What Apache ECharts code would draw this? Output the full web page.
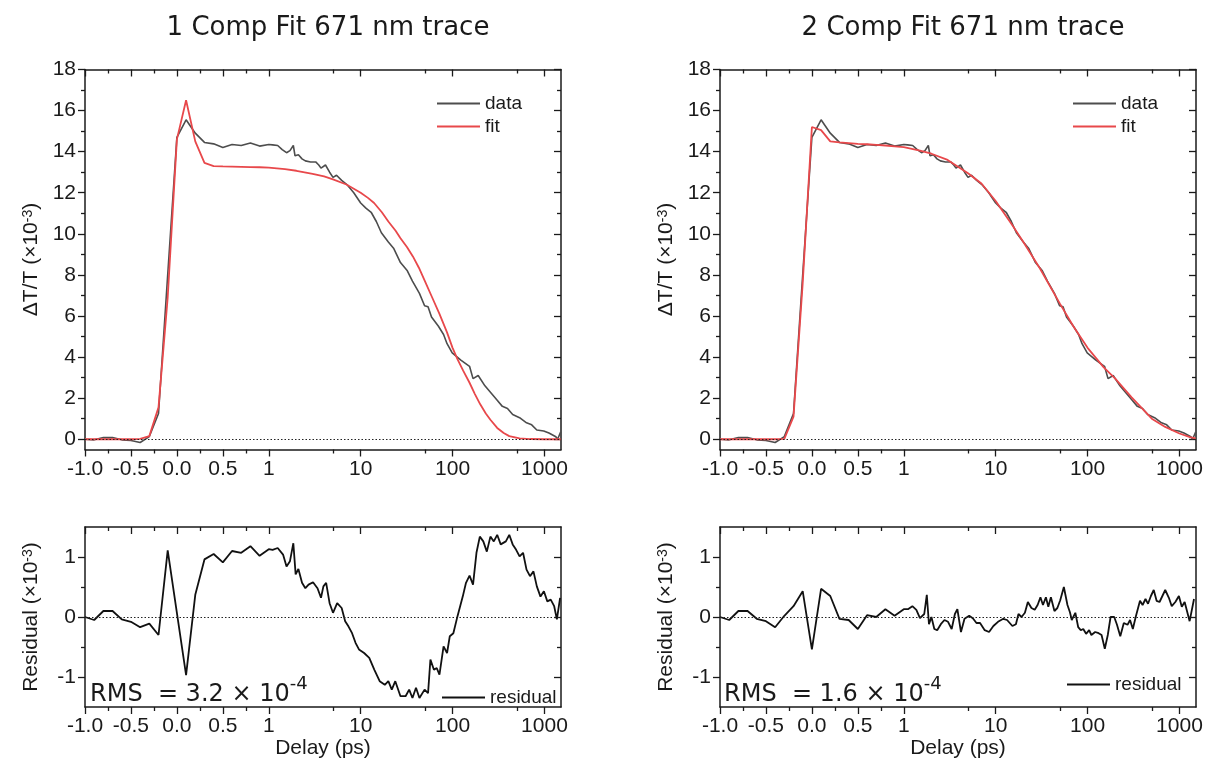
<!DOCTYPE html>
<html>
<head>
<meta charset="utf-8">
<script src="https://cdn.jsdelivr.net/npm/echarts@6/dist/echarts.min.js"></script>
<style>
  html, body { margin: 0; background: #fff; }
  #chart { width: 1207px; height: 768px; }
</style>
</head>
<body>
<div id="chart"></div>
<script>
// 671 nm trace: measured ΔT/T (x10^-3), 1- and 2-component fits, residuals.
// delay axis is linear from -1 to 1 ps, then log10 above 1 ps

const delay = [-1.0, -0.9, -0.8, -0.7, -0.6, -0.5, -0.4, -0.3, -0.2, -0.1, 0.0, 0.1, 0.2, 0.3, 0.4, 0.5, 0.6, 0.7, 0.8, 0.9, 1.0,
  1.1, 1.25, 1.4, 1.56, 1.7, 1.85, 1.93, 2.1, 2.3, 2.5, 2.85, 3.24, 3.5, 3.7, 4.14, 4.59, 5.0, 5.46, 6.21, 7.08,
  8.41, 10, 11.4, 13, 14.8, 16.8, 20, 22.8, 27.1, 32.2, 36.6, 43.6, 49.6, 54.1, 59, 70.2, 79.8, 87.1, 99.1, 123,
  153, 167, 190, 225, 268, 306, 348, 396, 451, 536, 638, 726, 826, 982, 1119, 1330, 1390, 1500]
const dtData = [0.0, -0.03, 0.08, 0.08, -0.03, -0.06, -0.16, 0.13, 1.25, 8.0, 14.7, 15.55, 14.9, 14.45, 14.38, 14.2, 14.35, 14.3, 14.42, 14.27, 14.35,
  14.33, 14.3, 14.1, 13.95, 14.05, 14.3, 13.8, 13.85, 13.65, 13.55, 13.5, 13.5, 13.35, 13.2, 13.35, 13.0, 12.75, 12.85, 12.6, 12.4,
  12.0, 11.5, 11.25, 11.05, 10.6, 10.05, 9.6, 9.3, 8.6, 8.2, 7.7, 7.1, 6.5, 6.45, 5.95, 5.5, 5.1, 4.65, 4.2, 3.85,
  3.55, 2.95, 3.1, 2.6, 2.2, 1.9, 1.6, 1.5, 1.2, 1.05, 0.8, 0.7, 0.45, 0.4, 0.3, 0.12, 0.0, 0.35]

const fitDelay = [-1.0, -0.9, -0.8, -0.7, -0.6, -0.5, -0.4, -0.3, -0.2, -0.1, 0.0, 0.1, 0.2, 0.3, 0.4, 0.5, 0.6, 0.7, 0.8, 0.9, 1.0,
  1.5, 2, 3, 4, 5, 7, 10, 12, 14, 17, 20, 24, 27, 32, 37, 43, 50, 60, 72, 87, 100, 113, 130, 153, 175, 200, 230, 258, 306, 360, 414, 536, 700, 1000, 1500]
const fit1 = [0, 0, 0, 0, 0, 0, 0.02, 0.15, 1.55, 6.9, 14.6, 16.5, 14.5, 13.45, 13.3, 13.28, 13.27, 13.26, 13.25, 13.24, 13.22,
  13.15, 13.07, 12.92, 12.8, 12.65, 12.4, 12.0, 11.75, 11.5, 11.05, 10.6, 10.15, 9.8, 9.35, 8.9, 8.35, 7.7, 6.9, 6.1, 5.2, 4.45, 3.9, 3.35, 2.75, 2.2, 1.7, 1.25, 0.95, 0.55, 0.3, 0.15, 0.04, 0.01, 0, 0]

const fit2Delay = [-1.0, -0.9, -0.8, -0.7, -0.6, -0.5, -0.4, -0.3, -0.2, -0.1, 0.0, 0.1, 0.2, 0.3, 0.4, 0.5, 0.6, 0.7, 0.8, 0.9, 1.0,
  1.5, 2, 3, 5, 7, 10, 15, 20, 30, 50, 70, 100, 150, 200, 300, 500, 700, 1000, 1300, 1500]
const fit2 = [0, 0, 0, 0, 0, 0, 0, 0.02, 1.1, 7.6, 15.2, 15.05, 14.5, 14.45, 14.42, 14.38, 14.36, 14.33, 14.3, 14.26, 14.22,
  14.05, 13.9, 13.6, 12.95, 12.45, 11.6, 10.45, 9.6, 8.35, 6.6, 5.5, 4.45, 3.5, 2.95, 2.05, 1.0, 0.6, 0.28, 0.1, 0.04]

const res1Delay = [-1.0, -0.9, -0.8, -0.7, -0.6, -0.5, -0.4, -0.3, -0.2, -0.1, 0.0, 0.1, 0.2, 0.3, 0.4, 0.5, 0.6, 0.7, 0.8, 0.9, 1.0,
  1.1, 1.25, 1.43, 1.56, 1.7, 1.85, 1.96, 2.1, 2.3, 2.5, 2.71, 3.03, 3.39, 3.7, 3.93, 4.21, 4.59, 5.0, 5.55, 6.21,
  6.78, 7.38, 8.06, 8.79, 9.58, 10.9, 12.4, 14.1, 16.1, 18.3, 20, 21.8, 23.8, 27.1, 30.8, 33.7, 36.6, 40, 43.6, 49.6,
  54.1, 57.4, 62.7, 67.2, 72, 79.8, 87.1, 93.3, 102, 113, 129, 140, 153, 167, 182, 198, 216, 236, 258, 281,
  306, 334, 380, 414, 451, 492, 536, 585, 638, 696, 759, 826, 905, 986, 1075, 1170, 1276, 1365, 1480]
const res1 = [0.0, -0.05, 0.1, 0.1, -0.04, -0.08, -0.17, -0.11, -0.3, 1.11, 0.07, -0.97, 0.37, 0.96, 1.05, 0.91, 1.1, 1.07, 1.18, 1.02, 1.13,
  1.12, 1.15, 1.04, 0.84, 0.93, 1.23, 0.71, 0.8, 0.57, 0.48, 0.54, 0.58, 0.48, 0.32, 0.51, 0.57, 0.23, 0.07, 0.23, 0.15,
  -0.07, -0.16, -0.27, -0.43, -0.54, -0.6, -0.68, -0.88, -1.07, -1.13, -1.07, -1.21, -1.07, -1.32, -1.32, -1.21, -1.35, -1.18, -1.35, -1.21,
  -1.27, -0.71, -0.88, -0.85, -0.96, -0.49, -0.6, -0.32, -0.27, 0.01, 0.34, 0.57, 0.69, 0.54, 1.07, 1.34, 1.26, 1.09, 1.34, 1.26,
  1.37, 1.21, 1.26, 1.37, 1.21, 1.12, 1.01, 1.07, 0.79, 0.68, 0.76, 0.51, 0.34, 0.43, 0.26, 0.29, 0.18, -0.04, 0.32]

const res2Delay = [-1.0, -0.9, -0.8, -0.7, -0.6, -0.5, -0.4, -0.3, -0.2, -0.1, 0.0, 0.1, 0.2, 0.3, 0.4, 0.5, 0.6, 0.7, 0.8, 0.9, 1.0,
  1.11, 1.24, 1.37, 1.5, 1.67, 1.78, 1.88, 2.0, 2.15, 2.31, 2.53, 2.77, 3.03, 3.32, 3.6, 3.83, 4.19, 4.58, 5.15, 5.64,
  6.18, 6.76, 7.6, 8.47, 9.44, 10.6, 12.1, 13.3, 15.2, 16.6, 17.7, 19.1, 20.8, 22.4, 24.5, 26.6, 28.6, 30.7, 32.7, 35.2,
  37.4, 39.9, 43.6, 46.9, 50.4, 55.2, 60.4, 64.3, 67.3, 73.6, 79.1, 84.3, 89.8, 96.4, 104, 110, 121, 132, 142, 154,
  166, 178, 195, 209, 227, 248, 272, 290, 311, 334, 372, 397, 427, 455, 489, 525, 564, 607, 652, 700,
  767, 824, 902, 986, 1060, 1139, 1290, 1440]
const res2 = [0.0, -0.05, 0.1, 0.1, -0.03, -0.07, -0.17, 0.02, 0.18, 0.43, -0.54, 0.47, 0.35, -0.03, -0.05, -0.2, 0.03, 0.0, 0.13, 0.02, 0.13,
  0.13, 0.18, 0.12, -0.02, 0.05, 0.37, -0.12, 0.0, -0.2, -0.22, -0.12, -0.05, -0.08, -0.2, 0.05, 0.13, -0.25, -0.03, 0.02, -0.02,
  -0.1, -0.1, -0.22, -0.25, -0.15, -0.08, -0.03, -0.05, -0.15, -0.12, 0.05, 0.0, 0.07, 0.25, 0.15, 0.12, 0.2, 0.33, 0.2, 0.33,
  0.17, 0.33, 0.1, 0.15, 0.28, 0.5, 0.2, 0.08, -0.05, 0.07, -0.17, -0.22, -0.2, -0.28, -0.22, -0.3, -0.25, -0.27, -0.3, -0.53,
  -0.3, 0.0, 0.0, -0.13, -0.32, -0.1, -0.13, -0.05, -0.2, 0.0, 0.27, 0.2, 0.3, 0.22, 0.35, 0.45, 0.27, 0.25, 0.35, 0.45,
  0.32, 0.18, 0.25, 0.35, 0.17, 0.25, -0.07, 0.3]

// ticks
const xMajor = [-1, -0.5, 0, 0.5, 1, 10, 100, 1000]
const xMajorText = ['-1.0', '-0.5', '0.0', '0.5', '1', '10', '100', '1000']
const xMinor = [-0.75, -0.25, 0.25, 0.75, 5, 50, 500]
const yMajor = [0, 2, 4, 6, 8, 10, 12, 14, 16, 18]
const yMinor = [1, 3, 5, 7, 9, 11, 13, 15, 17]
const rMajor = [-1, 0, 1]
const rMinor = [-0.5, 0.5]

const titles = ['1 Comp Fit 671 nm trace', '2 Comp Fit 671 nm trace']
const rmsText = ['3.2', '1.6']

// broken axis: linear up to 1 ps, one decade per unit above
const tx = d => d <= 1 ? d : 1 + Math.log10(d)
const pairs = (xs, ys) => xs.map((d, i) => [tx(d), ys[i]])
const XMAX = 4.18

const AX = '#1a1a1a'
const NUM = '"Liberation Sans", Arial, sans-serif'
const TXT = '"DejaVu Sans", Verdana, sans-serif'
const lbl = { fontSize: 21, color: '#1a1a1a', fontFamily: NUM }
const supRich = { s: { fontSize: 14, fontFamily: NUM, color: '#1a1a1a', verticalAlign: 'top', lineHeight: 14 } }

const xMajorT = xMajor.map(tx)
const xMinorT = xMinor.map(tx)

function xAxes(g, named) {
  const base = { gridIndex: g, type: 'value', min: -1, max: XMAX, splitLine: { show: false } }
  const line = { show: true, onZero: false, lineStyle: { color: AX, width: 1.5 } }
  const tk = { color: AX, width: 1.3 }
  return [
    {
      ...base, position: 'bottom', axisLine: line,
      axisTick: { customValues: xMajorT, length: 7, lineStyle: tk },
      axisLabel: {
        ...lbl, customValues: xMajorT, margin: 9, showMinLabel: true, showMaxLabel: true,
        formatter: v => { const i = xMajorT.findIndex(t => Math.abs(t - v) < 1e-6); return i < 0 ? '' : xMajorText[i] }
      },
      name: named ? 'Delay (ps)' : '', nameLocation: 'middle', nameGap: 31,
      nameTextStyle: { fontSize: 21, color: '#1a1a1a', fontFamily: NUM }
    },
    { ...base, position: 'bottom', axisLine: { show: false, onZero: false }, axisTick: { customValues: xMinorT, length: 4, lineStyle: tk }, axisLabel: { show: false } },
    { ...base, position: 'top', axisLine: line, axisTick: { inside: true, customValues: xMajorT, length: 7, lineStyle: tk }, axisLabel: { show: false } },
    { ...base, position: 'top', axisLine: { show: false, onZero: false }, axisTick: { inside: true, customValues: xMinorT, length: 4, lineStyle: tk }, axisLabel: { show: false } }
  ]
}

function yAxes(g, min, max, major, minor, name) {
  const base = { gridIndex: g, type: 'value', min, max, splitLine: { show: false } }
  const line = { show: true, onZero: false, lineStyle: { color: AX, width: 1.5 } }
  const tk = { color: AX, width: 1.3 }
  return [
    {
      ...base, position: 'left', axisLine: line,
      axisTick: { customValues: major, length: 7, lineStyle: tk },
      axisLabel: { ...lbl, customValues: major, margin: 9 },
      name, nameLocation: 'middle', nameGap: 43,
      nameTextStyle: { fontSize: 21, color: '#1a1a1a', fontFamily: NUM, rich: supRich }
    },
    { ...base, position: 'left', axisLine: { show: false, onZero: false }, axisTick: { customValues: minor, length: 4, lineStyle: tk }, axisLabel: { show: false } },
    { ...base, position: 'right', axisLine: line, axisTick: { inside: true, customValues: major, length: 7, lineStyle: tk }, axisLabel: { show: false } },
    { ...base, position: 'right', axisLine: { show: false, onZero: false }, axisTick: { inside: true, customValues: minor, length: 4, lineStyle: tk }, axisLabel: { show: false } }
  ]
}

const zeroLine = {
  silent: true, symbol: ['none', 'none'], animation: false,
  label: { show: false },
  lineStyle: { type: [1.5, 2], color: '#222', width: 1.2 },
  data: [{ yAxis: 0 }]
}

function line(name, g, data, color, width, mark) {
  return {
    name, type: 'line', xAxisIndex: 4 * g, yAxisIndex: 4 * g, data,
    symbol: 'none', lineStyle: { color, width }, itemStyle: { color },
    markLine: mark ? zeroLine : undefined
  }
}

const legendText = { fontSize: 19, color: '#1a1a1a', fontFamily: NUM }
const legend = (left, top, data) => ({
  left, top, orient: 'vertical', data, icon: 'rect', itemWidth: 43, itemHeight: 2, itemGap: 4,
  textStyle: legendText, selectedMode: false
})

const dtName = 'ΔT/T (×10{s|-3})'
const resName = 'Residual (×10{s|-3})'

const rmsGraphic = (left, val) => ({
  type: 'text', left, top: 675,
  style: {
    text: `{a|RMS  = ${val} × 10}{b|-4}`,
    rich: {
      a: { fontSize: 24, fontFamily: TXT, fill: '#1a1a1a', lineHeight: 32, verticalAlign: 'bottom' },
      b: { fontSize: 18, fontFamily: TXT, fill: '#1a1a1a', lineHeight: 20, verticalAlign: 'top' }
    }
  }
})

const chart = echarts.init(document.getElementById('chart'))
chart.setOption({
  animation: false,
  backgroundColor: '#fff',
  title: titles.map((t, i) => ({
    text: t, left: i ? 958 : 323, top: 10, textAlign: 'center',
    textStyle: { fontSize: 26, fontWeight: 'normal', color: '#1a1a1a', fontFamily: TXT }
  })),
  grid: [
    { left: 85, top: 69.5, width: 476, height: 380 },
    { left: 720, top: 69.5, width: 476, height: 380 },
    { left: 85, top: 527, width: 476, height: 180 },
    { left: 720, top: 527, width: 476, height: 180 }
  ],
  xAxis: [...xAxes(0, false), ...xAxes(1, false), ...xAxes(2, true), ...xAxes(3, true)],
  yAxis: [
    ...yAxes(0, -0.5, 18, yMajor, yMinor, dtName),
    ...yAxes(1, -0.5, 18, yMajor, yMinor, dtName),
    ...yAxes(2, -1.5, 1.5, rMajor, rMinor, resName),
    ...yAxes(3, -1.5, 1.5, rMajor, rMinor, resName)
  ],
  legend: [
    legend(432, 89, ['data', 'fit']),
    legend(1068, 89, ['data', 'fit']),
    legend(437, 683, ['residual']),
    legend(1062, 670, ['residual'])
  ],
  graphic: [rmsGraphic(90, rmsText[0]), rmsGraphic(724, rmsText[1])],
  series: [
    line('data', 0, pairs(delay, dtData), '#4d4d4d', 1.6, false),
    line('fit', 0, pairs(fitDelay, fit1), '#e8484b', 1.8, true),
    line('data', 1, pairs(delay, dtData), '#4d4d4d', 1.6, false),
    line('fit', 1, pairs(fit2Delay, fit2), '#e8484b', 1.8, true),
    line('residual', 2, pairs(res1Delay, res1), '#111', 1.8, true),
    line('residual', 3, pairs(res2Delay, res2), '#111', 1.8, true)
  ]
})
</script>
</body>
</html>
